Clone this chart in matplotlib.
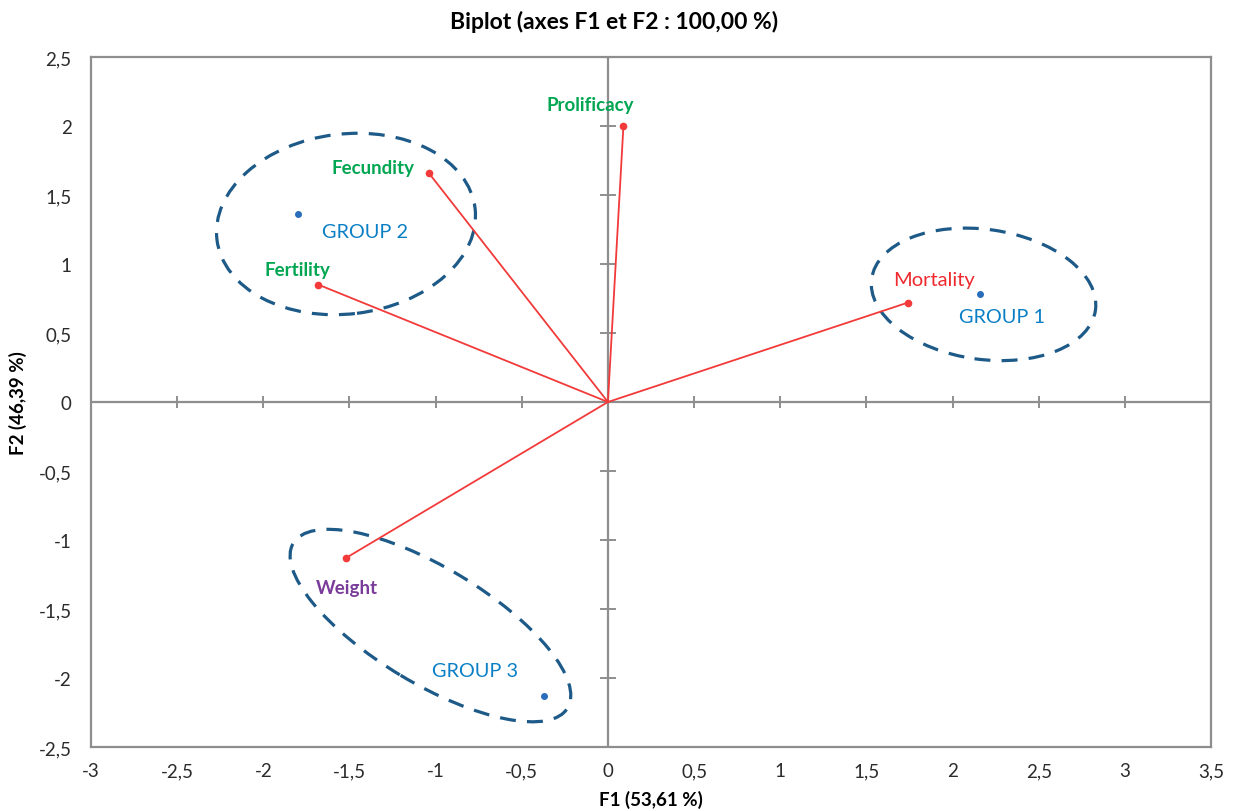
import matplotlib
matplotlib.use("Agg")
import matplotlib.pyplot as plt
import matplotlib.transforms as mtransforms
from matplotlib.patches import Ellipse
import numpy as np

plt.rcParams['font.family'] = ['Lato', 'DejaVu Sans']

# variable loadings (F1, F2)
var_names = ['Prolificacy', 'Fecundity', 'Fertility', 'Mortality', 'Weight']
var_f1 = [0.09, -1.04, -1.68, 1.74, -1.52]
var_f2 = [2.00, 1.66, 0.85, 0.72, -1.13]
var_colors = ['#00a651', '#00a651', '#00a651', '#ee2a2f', '#7a3c9a']
var_bold = [True, True, True, False, True]

# group centroids
grp_names = ['GROUP 1', 'GROUP 2', 'GROUP 3']
grp_f1 = [2.16, -1.80, -0.37]
grp_f2 = [0.78, 1.36, -2.13]

# ellipses round the groups: centre (F1, F2)
ell_f1 = [2.18, -1.52, -1.03]
ell_f2 = [0.78, 1.29, -1.62]

xticks = [-3, -2.5, -2, -1.5, -1, -0.5, 0, 0.5, 1, 1.5, 2, 2.5, 3, 3.5]
yticks = [-2.5, -2, -1.5, -1, -0.5, 0, 0.5, 1, 1.5, 2, 2.5]
xticklabels = ['-3', '-2,5', '-2', '-1,5', '-1', '-0,5', '0', '0,5', '1', '1,5', '2', '2,5', '3', '3,5']
yticklabels = ['-2,5', '-2', '-1,5', '-1', '-0,5', '0', '0,5', '1', '1,5', '2', '2,5']

# label offsets in pixels from the point
var_off = [(-33, 21), (-56, 5), (-21, 15), (26, 23), (1, -30)]
grp_off = [(22, -22), (67, -17), (-69, 25)]
# ellipse semi-axes (px) and angle (deg)
ell_shape = [(113, 65, -8), (130, 90, 7), (160, 58, -31)]

W, H = 1236, 812
fig = plt.figure(figsize=(W / 100, H / 100), dpi=100)
ax = fig.add_axes([91 / W, (H - 748) / H, 1120 / W, 690 / H])
ax.set_xlim(-3, 3.5)
ax.set_ylim(-2.5, 2.5)

gray = '#8e8e8e'
for s in ax.spines.values():
    s.set_color(gray)
    s.set_linewidth(1.6)

ax.set_xticks(xticks)
ax.set_xticklabels(xticklabels)
ax.set_yticks(yticks)
ax.set_yticklabels(yticklabels)
ax.tick_params(length=0, labelsize=13.5, colors='#2b2b2b')
ax.tick_params(axis='x', pad=11)
ax.tick_params(axis='y', pad=14)

# axes through the origin with their own ticks
ax.axhline(0, color=gray, lw=1.6, zorder=1)
ax.axvline(0, color=gray, lw=1.6, zorder=1)
ax.plot(xticks, np.zeros(len(xticks)), ls='none', marker='|', ms=9, mew=1.4, color=gray, zorder=1)
ax.plot(np.zeros(len(yticks)), yticks, ls='none', marker='_', ms=11, mew=1.4, color=gray, zorder=1)

# variable vectors
for x, y in zip(var_f1, var_f2):
    ax.plot([0, x], [0, y], color='#f23a3a', lw=1.3, zorder=3)
ax.plot(var_f1, var_f2, 'o', color='#f23a3a', ms=4.5, zorder=4)

for name, x, y, c, b, off in zip(var_names, var_f1, var_f2, var_colors, var_bold, var_off):
    ax.annotate(name, (x, y), xytext=off, textcoords='offset pixels',
                ha='center', va='center', color=c,
                fontsize=13.5 if b else 14.5,
                fontweight='bold' if b else 'normal', zorder=5)

# group centroids
ax.plot(grp_f1, grp_f2, 'o', color='#2a6ebb', ms=4, zorder=4)
for name, x, y, off in zip(grp_names, grp_f1, grp_f2, grp_off):
    ax.annotate(name, (x, y), xytext=off, textcoords='offset pixels',
                ha='center', va='center', color='#0a7fc6', fontsize=14.3, zorder=5)

for cx, cy, (a, b, ang) in zip(ell_f1, ell_f2, ell_shape):
    tr = fig.dpi_scale_trans + mtransforms.ScaledTranslation(cx, cy, ax.transData)
    e = Ellipse((0, 0), 2 * a / 100, 2 * b / 100, angle=ang, transform=tr,
                fill=False, ec='#1d5a88', lw=2.3, ls=(0, (5, 3.5)), zorder=2)
    ax.add_patch(e)

fig.text(614 / W, 1 - 22 / H, 'Biplot (axes F1 et F2 : 100,00 %)', ha='center', va='center',
         fontsize=16.5, fontweight='bold')
fig.text(651 / W, 1 - 800 / H, 'F1 (53,61 %)', ha='center', va='center',
         fontsize=13.5, fontweight='bold')
fig.text(18 / W, 1 - 403 / H, 'F2 (46,39 %)', ha='center', va='center', rotation=90,
         fontsize=13.5, fontweight='bold')

fig.savefig('out.png', dpi=100)
